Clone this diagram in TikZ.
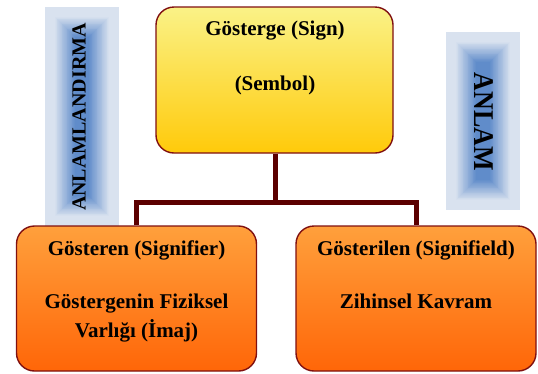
\documentclass[tikz,border=0pt]{standalone}
\usepackage{fontspec}
\setmainfont{Liberation Serif}
\newfontfamily\boxfont{Liberation Serif}
\definecolor{paleC}{RGB}{217,226,239}
\definecolor{blueC}{RGB}{96,140,202}
\definecolor{borderC}{RGB}{128,16,16}
\definecolor{connC}{RGB}{92,0,0}
\definecolor{yelTop}{RGB}{250,242,135}
\definecolor{yelBot}{RGB}{255,202,10}
\definecolor{orTop}{RGB}{255,160,60}
\definecolor{orBot}{RGB}{255,102,8}
\tikzset{
  boxbase/.style={draw=borderC, line width=1.4pt, rounded corners=18pt, inner sep=0pt},
  topbox/.style={boxbase, top color=yelTop, bottom color=yelBot, minimum width=237pt, minimum height=146pt},
  lowbox/.style={boxbase, top color=orTop, bottom color=orBot, minimum width=240pt, minimum height=145pt},
  txt/.style={font=\boxfont\bfseries\fontsize{21}{24}\selectfont, anchor=base, inner sep=0pt},
  conn/.style={draw=connC, line width=5pt, line join=miter},
}
\newcommand{\rectglow}[4]{% x1 y1 x2 y2
  \foreach \i in {0,...,40}{
    \pgfmathsetmacro\t{\i/40}
    \pgfmathsetmacro\p{min(1,max(0,(\t-0.28)/0.62))*100}
    \pgfmathsetmacro\d{\t*((#3)-(#1))/2*0.9}
    \fill[blueC!\p!paleC] ({#1+\d},{#2+\d}) rectangle ({#3-\d},{#4-\d});
  }
}
\begin{document}
\begin{tikzpicture}[x=1pt,y=-1pt]
\useasboundingbox (0,0) rectangle (538,373);
% side bars
\rectglow{45}{7}{119}{226}
\rectglow{446}{32}{520}{210}
\node[font=\boxfont\bfseries\fontsize{20}{22}\selectfont, rotate=90, inner sep=0pt] (anl) at (79,117) {ANLAMLANDIRMA};
\node[font=\boxfont\bfseries\fontsize{26}{28}\selectfont, rotate=-90, inner sep=0pt] (anlam) at (484,122) {\scalebox{1}[1.1]{ANLAM}};
% boxes
\node[topbox] (top) at (274.5,80) {};
\node[lowbox] (left) at (136.5,298.5) {};
\node[lowbox] (right) at (416,298.5) {};
% connectors
\coordinate (jn) at (275.5,202);
\draw[conn] (left.north) |- (jn) -| (right.north);
\draw[conn] (top.south -| jn) -- (jn);
% texts
\node[txt] (t1) at (275,35) {Gösterge (Sign)};
\node[txt] (t2) at (275,90) {(Sembol)};
\node[txt] (l1) at (136.5,255) {Gösteren (Signifier)};
\node[txt] (l2) at (136.5,308) {Göstergenin Fiziksel};
\node[txt] (l3) at (136.5,337) {Varlığı (İmaj)};
\node[txt] (r1) at (416,255) {Gösterilen (Signifield)};
\node[txt] (r2) at (416,308) {Zihinsel Kavram};
\end{tikzpicture}
\end{document}
